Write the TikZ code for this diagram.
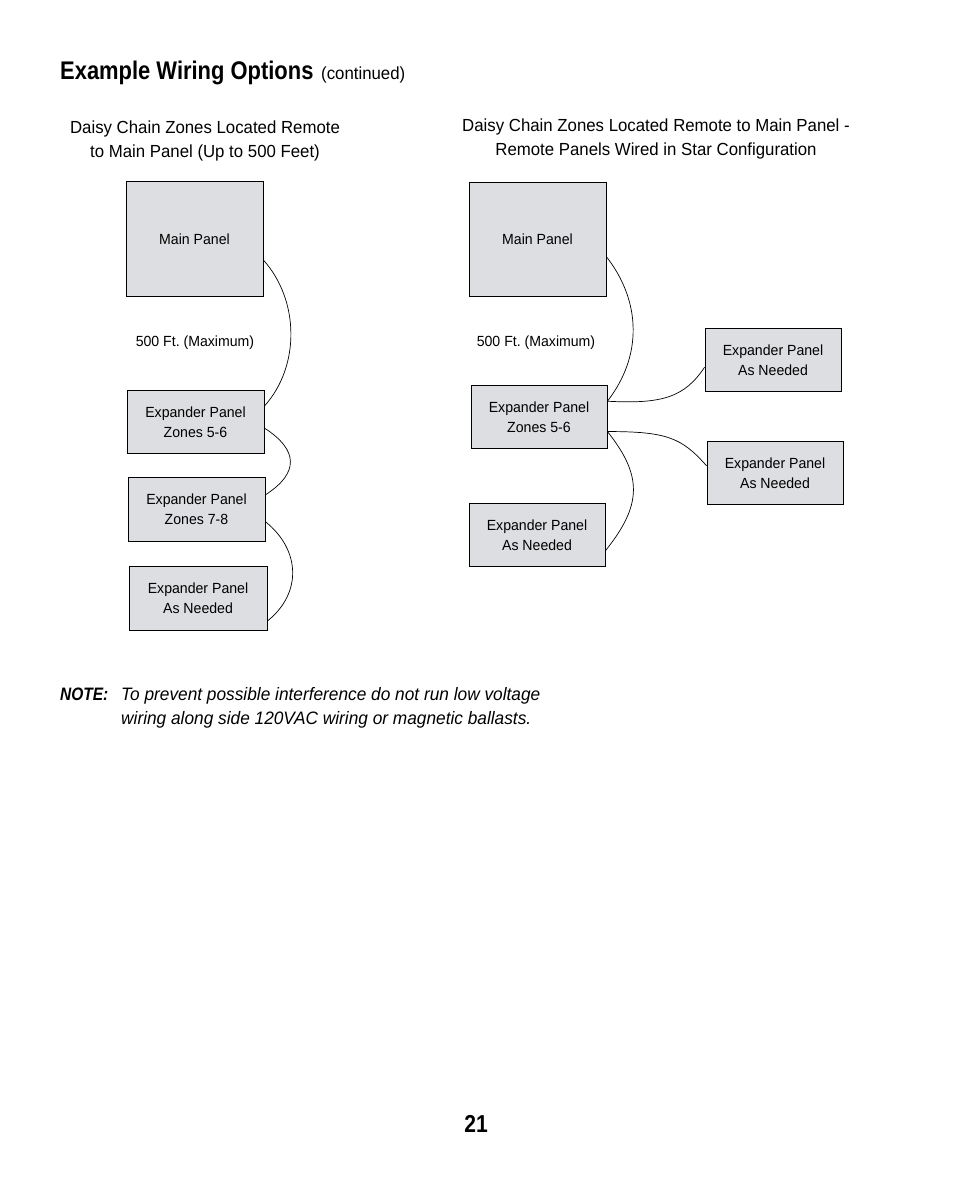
\documentclass[tikz,border=0pt]{standalone}
\usepackage{fontspec}
\setmainfont[FakeStretch=0.96]{Liberation Sans}
\newfontfamily\condbold[FakeStretch=0.86]{Liberation Sans}
\frenchspacing
\usetikzlibrary{positioning}
\definecolor{panelgray}{RGB}{221,222,225}
\tikzset{
    panel/.style={
        rectangle,
        draw=black,
        fill=panelgray,
        line width=0.8pt,
        align=center,
        inner sep=0pt,
        font=\fontsize{14.7}{20}\selectfont
    },
    wire/.style={
        line width=0.7pt,
        draw=black
    },
    heading/.style={
        align=center,
        inner sep=0pt,
        font=\fontsize{17.5}{23.5}\selectfont
    }
}

\begin{document}
\begin{tikzpicture}[x=1pt,y=1pt]
            \useasboundingbox (0,0) rectangle (954,-1193);

            % Title
            \node[anchor=base west, inner sep=0pt, font=\fontsize{25.5}{30}\condbold\bfseries] (title) at (60,-80)
                {Example Wiring Options};
            \node[anchor=base west, inner sep=0pt, font=\fontsize{17.5}{20}\selectfont] (cont) at (321,-80)
                {(continued)};

            % Headings
            \node[heading] (headL) at (205,-141) {Daisy Chain Zones Located Remote\\to Main Panel (Up to 500 Feet)};
            \node[heading] (headR) at (656,-139) {Daisy Chain Zones Located Remote to Main Panel -\\Remote Panels Wired in Star Configuration};

            % Left: daisy chain
            \node[panel, minimum width=137, minimum height=115] (mainL) at (194.5,-239) {Main Panel};
            \node[panel, minimum width=137, minimum height=63] (expL1) at (195.5,-422) {Expander Panel\\Zones 5-6};
            \node[panel, minimum width=137, minimum height=64] (expL2) at (196.5,-509.5) {Expander Panel\\Zones 7-8};
            \node[panel, minimum width=138, minimum height=64] (expL3) at (198,-598.5) {Expander Panel\\As Needed};
            \node[font=\fontsize{14.7}{18}\selectfont, inner sep=0pt] (distL) at (195,-342.5) {500 Ft. (Maximum)};

            \draw[wire] (mainL.-17) .. controls +(36,-40) and +(36,40) .. (expL1.13);
            \draw[wire] (expL1.-5) .. controls +(34,-22) and +(34,22) .. (expL2.12);
            \draw[wire] (expL2.-10) .. controls +(35,-28) and +(35,28) .. (expL3.-18);

            % Right: star configuration
            \node[panel, minimum width=137, minimum height=114] (mainR) at (537.5,-239.5) {Main Panel};
            \node[panel, minimum width=136, minimum height=63] (expR1) at (539,-417) {Expander Panel\\Zones 5-6};
            \node[panel, minimum width=136, minimum height=63] (expR2) at (537,-535) {Expander Panel\\As Needed};
            \node[panel, minimum width=136, minimum height=63] (expR3) at (773,-360) {Expander Panel\\As Needed};
            \node[panel, minimum width=136, minimum height=63] (expR4) at (775,-473) {Expander Panel\\As Needed};
            \node[font=\fontsize{14.7}{18}\selectfont, inner sep=0pt] (distR) at (536,-342.5) {500 Ft. (Maximum)};

            \draw[wire] (mainR.-14) .. controls +(35,-45) and +(35,45) .. (expR1.13.6);
            \draw[wire] (expR1.13.6) .. controls +(55,-3) and +(-20,-30) .. (expR3.186);
            \draw[wire] (expR1.-12) .. controls +(60,0) and +(-25,28) .. (expR4.174.5);
            \draw[wire] (expR1.-12) .. controls +(36,-45) and +(36,45) .. (expR2.-13.6);

            % Note
            \node[anchor=base west, inner sep=0pt, font=\fontsize{18}{22}\condbold\bfseries\itshape] (notelbl) at (60,-700) {NOTE:};
            \node[anchor=base west, inner sep=0pt, align=left, font=\fontsize{18}{24.5}\selectfont\itshape] (notetxt) at (121,-724.5)
                {To prevent possible interference do not run low voltage\\wiring along side 120VAC wiring or magnetic ballasts.};

            % Page number
            \node[anchor=base, inner sep=0pt, font=\fontsize{24.5}{28}\condbold\bfseries] (pagenum) at (476,-1132) {21};
\end{tikzpicture}
\end{document}
